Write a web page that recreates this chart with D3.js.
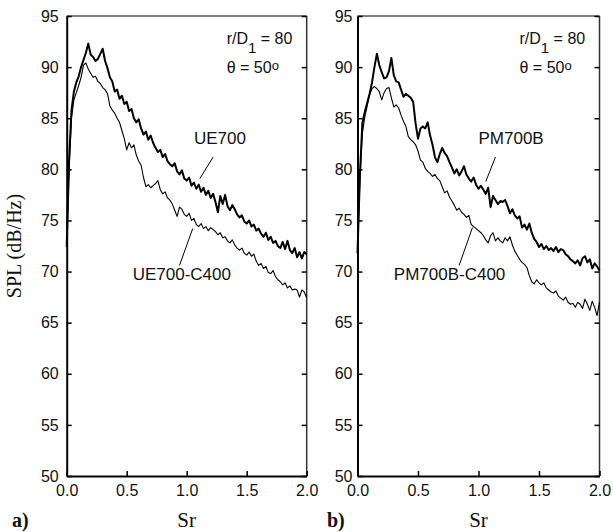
<!DOCTYPE html>
<html>
<head>
<meta charset="utf-8">
<script src="https://cdn.jsdelivr.net/npm/d3@7/dist/d3.min.js"></script>
<style>
  body { margin: 0; background: #fff; }
  svg text { fill: #111; }
</style>
</head>
<body>
<div id="chart_area"></div>
<script>
// Sr sampling grid shared by all four spectra (0 .. 2.0, step 0.02)
const srValues = d3.range(0, 101).map((i) => +(i * 0.02).toFixed(2));

const xTicks = [0, 0.5, 1, 1.5, 2];
const yTicks = [50, 55, 60, 65, 70, 75, 80, 85, 90, 95];

// panel a)
const ue700 = [
  72.4, 81.0, 85.8, 87.6, 88.5, 89.1, 90.0, 90.7, 91.4, 92.3,
  91.2, 91.0, 90.6, 90.8, 91.3, 91.8, 90.6, 89.9, 89.0, 88.6,
  87.6, 87.8, 86.9, 87.2, 86.4, 86.6, 85.7, 85.9, 85.0, 84.6,
  84.9, 84.0, 83.4, 83.7, 82.9, 83.3, 82.6, 82.1, 81.7, 81.9,
  81.2, 81.5, 80.8, 80.5, 80.3, 80.6, 79.8, 79.5, 79.9, 79.1,
  78.9, 79.2, 78.4, 78.7, 78.1, 78.5, 77.8, 78.2, 77.5, 77.9,
  77.2, 77.6, 76.8, 75.8, 77.4, 76.6, 77.5, 76.4, 76.0, 76.5,
  76.1, 75.6, 75.3, 75.5, 74.9, 74.7, 75.0, 74.4, 74.6, 74.0,
  74.2, 73.7, 73.4, 73.8, 73.1, 73.4, 72.8, 73.0, 72.5, 72.3,
  72.9, 72.2, 73.0, 72.1, 71.8, 72.3, 71.4, 71.9, 71.3, 71.9,
  71.7
];
const ue700c400 = [
  72.4, 80.0, 85.0, 86.8, 87.5, 88.2, 89.0, 90.2, 90.4, 89.8,
  89.4, 89.0, 89.1, 88.6, 88.4, 88.0, 87.8, 87.4, 86.2, 85.8,
  85.5, 85.0, 84.6, 83.8, 83.0, 81.9, 82.6, 82.1, 82.4, 81.4,
  80.8, 80.4, 79.2, 78.3, 78.5, 78.2, 78.4, 78.6, 78.9, 78.0,
  77.6, 77.8, 77.2, 77.0, 76.6, 76.0, 75.4, 76.3, 76.1, 75.6,
  75.4, 75.7, 75.0, 75.2, 74.6, 74.4, 74.7, 74.2, 74.4, 74.0,
  74.3, 74.1, 73.9, 73.6, 73.8, 73.3, 73.4, 73.0, 72.8, 73.1,
  72.6, 72.3, 72.1, 72.3, 71.8, 71.6, 71.9, 71.5, 71.7, 71.0,
  70.6, 70.8, 70.3, 70.5, 69.9, 69.8, 70.1, 69.5, 69.2, 69.0,
  68.7, 68.9, 68.4, 68.6, 68.2, 68.3, 68.2, 67.5, 68.2, 68.0,
  67.4
];

// panel b)
const pm700b = [
  71.8, 79.5, 84.5, 85.6, 86.5, 87.4, 88.5, 90.0, 91.3, 90.2,
  89.5, 88.9, 89.0, 89.6, 90.9, 89.2, 88.6, 88.5, 87.8, 87.1,
  87.4, 87.2, 87.0, 86.6, 84.5, 83.0, 84.0, 84.2, 84.0, 84.6,
  83.3, 82.4, 81.2, 80.7, 81.5, 82.1, 81.6, 81.3, 80.7, 80.2,
  79.6, 80.0, 79.4, 79.8, 80.3, 79.5, 79.1, 78.8, 79.2, 78.5,
  78.1, 78.4, 78.0, 77.6, 78.2, 76.3, 77.4, 77.0, 76.6, 76.9,
  76.8, 77.0, 76.4, 75.7, 76.1, 75.5, 75.2, 75.4, 74.3, 74.6,
  74.1, 74.7, 73.8, 73.2, 72.9, 72.4, 72.7, 72.2, 72.5, 72.1,
  72.3, 72.0, 72.4, 71.9, 72.2, 72.1, 71.7, 71.5, 71.2, 71.0,
  70.8, 71.1, 70.6, 71.3, 71.5, 70.9, 71.2, 70.3, 70.8, 70.5,
  70.1
];
const pm700bc400 = [
  71.8, 79.0, 83.5, 85.1, 86.2, 87.3, 87.9, 88.1, 87.9, 87.6,
  86.8, 87.5, 87.9, 88.0, 87.0, 86.1, 86.3, 86.0, 85.3, 84.7,
  84.2, 83.2, 82.9, 82.7, 82.4, 81.8, 80.9, 80.7, 80.1, 79.8,
  79.6, 79.3, 79.5, 79.1, 78.9, 78.3, 77.7, 77.9, 77.3, 76.9,
  76.5, 76.0, 76.2, 75.8, 75.6, 75.3, 75.5, 74.6, 74.4, 74.2,
  74.0, 73.8, 73.5, 73.1, 72.8, 73.5, 73.8, 73.0, 73.3, 73.0,
  72.8, 73.3, 73.0, 73.4, 72.6, 72.0, 71.6, 71.2, 70.9, 70.7,
  70.4, 69.6, 69.0, 68.8, 69.2, 68.9, 68.7, 68.9, 68.4, 68.2,
  68.0, 67.9, 68.1, 67.6, 67.4, 67.2, 67.5, 67.0, 66.8, 66.9,
  66.5, 67.0, 66.8, 66.4, 67.3, 66.8, 66.2, 67.1, 66.5, 65.7,
  67.0
];

const panels = [
  {
    tag: 'a)',
    tagX: 12,
    x0: 66.7,
    x1: 306.7,
    yPad: 8,
    series: [
      { name: 'UE700', values: ue700, width: 2 },
      { name: 'UE700-C400', values: ue700c400, width: 1.1 },
    ],
    // label text position and leader line (in data units)
    labels: [
      { text: 'UE700', at: [1.06, 82.5], lead: [[1.22, 81.2], [1.11, 79.1]] },
      { text: 'UE700-C400', at: [0.55, 69.2], lead: [[1.05, 74.2], [0.94, 70.6]] },
    ],
  },
  {
    tag: 'b)',
    tagX: 327,
    x0: 357.5,
    x1: 599.5,
    yPad: 5,
    series: [
      { name: 'PM700B', values: pm700b, width: 2 },
      { name: 'PM700B-C400', values: pm700bc400, width: 1.1 },
    ],
    labels: [
      { text: 'PM700B', at: [1.0, 82.5], lead: [[1.14, 81.2], [1.06, 78.8]] },
      { text: 'PM700B-C400', at: [0.3, 69.2], lead: [[0.95, 74.3], [0.84, 70.6]] },
    ],
  },
];

const yTop = 16;
const yBottom = 476;

const svg = d3
  .select('#chart_area')
  .append('svg')
  .attr('width', 613)
  .attr('height', 532);

function drawPanel(p) {
  const x = d3.scaleLinear().domain([0, 2]).range([p.x0, p.x1]);
  const y = d3.scaleLinear().domain([50, 95]).range([yBottom, yTop]);
  const g = svg.append('g');

  // frame: top and right are lighter
  g.append('line')
    .attr('x1', p.x0).attr('y1', yTop)
    .attr('x2', p.x1).attr('y2', yTop)
    .attr('stroke', '#555').attr('stroke-width', 1.5);
  g.append('line')
    .attr('x1', p.x1).attr('y1', yTop)
    .attr('x2', p.x1).attr('y2', yBottom)
    .attr('stroke', '#333').attr('stroke-width', 1.5);

  const tickFont = (sel) =>
    sel.selectAll('text')
      .attr('font-family', 'Liberation Sans, Arial, sans-serif')
      .attr('font-size', 16)
      .attr('fill', '#111');

  const xAxis = g.append('g')
    .attr('transform', `translate(0,${yBottom})`)
    .call(d3.axisBottom(x).tickValues(xTicks).tickFormat(d3.format('.1f'))
      .tickSize(-5).tickSizeOuter(0).tickPadding(9));
  xAxis.call(tickFont);

  const yAxis = g.append('g')
    .attr('transform', `translate(${p.x0},0)`)
    .call(d3.axisLeft(y).tickValues(yTicks).tickSize(-5).tickSizeOuter(0).tickPadding(p.yPad));
  yAxis.call(tickFont);

  g.append('g')
    .attr('transform', `translate(${p.x1},0)`)
    .call(d3.axisRight(y).tickValues(yTicks).tickSize(-5).tickSizeOuter(0).tickFormat(''))
    .call((a) => a.select('.domain').remove());

  [xAxis, yAxis].forEach((a) => {
    a.select('.domain').attr('stroke', '#000').attr('stroke-width', 2);
  });
  g.selectAll('.tick line').attr('stroke', '#000').attr('stroke-width', 1.5);

  const line = d3.line()
    .x((d, i) => x(srValues[i]))
    .y((d) => y(d));

  p.series.forEach((s) => {
    g.append('path')
      .datum(s.values)
      .attr('d', line)
      .attr('fill', 'none')
      .attr('stroke', '#000')
      .attr('stroke-width', s.width)
      .attr('stroke-linejoin', 'round');
  });

  p.labels.forEach((l) => {
    g.append('text')
      .attr('x', x(l.at[0]))
      .attr('y', y(l.at[1]))
      .attr('font-family', 'Liberation Sans, Arial, sans-serif')
      .attr('font-size', 17)
      .text(l.text);
    g.append('line')
      .attr('x1', x(l.lead[0][0])).attr('y1', y(l.lead[0][1]))
      .attr('x2', x(l.lead[1][0])).attr('y2', y(l.lead[1][1]))
      .attr('stroke', '#000').attr('stroke-width', 1);
  });

  // r/D1 and theta annotation
  const ann = g.append('g')
    .attr('font-family', 'Liberation Sans, Arial, sans-serif')
    .attr('font-size', 16);
  const t1 = ann.append('text').attr('x', p.x1 - 80).attr('y', 44);
  t1.append('tspan').text('r/D');
  t1.append('tspan').attr('dy', 9).attr('font-size', 15).text('1');
  t1.append('tspan').attr('dy', -9).text(' = 80');
  const t2 = ann.append('text').attr('x', p.x1 - 80).attr('y', 73);
  t2.append('tspan').text('\u03b8 = 50');
  t2.append('tspan').attr('dy', -3).attr('font-size', 13).text('o');

  // panel tag and axis title
  g.append('text')
    .attr('x', p.tagX)
    .attr('y', 527)
    .attr('font-family', 'Liberation Serif, Times New Roman, serif')
    .attr('font-weight', 'bold')
    .attr('font-size', 20)
    .text(p.tag);
  g.append('text')
    .attr('x', (p.x0 + p.x1) / 2)
    .attr('y', 527)
    .attr('text-anchor', 'middle')
    .attr('font-family', 'Liberation Serif, Times New Roman, serif')
    .attr('font-size', 21)
    .text('Sr');
}

panels.forEach(drawPanel);

svg.append('text')
  .attr('transform', 'translate(21,246) rotate(-90)')
  .attr('text-anchor', 'middle')
  .attr('font-family', 'Liberation Serif, Times New Roman, serif')
  .attr('font-size', 20)
  .text('SPL (dB/Hz)');
</script>
</body>
</html>
